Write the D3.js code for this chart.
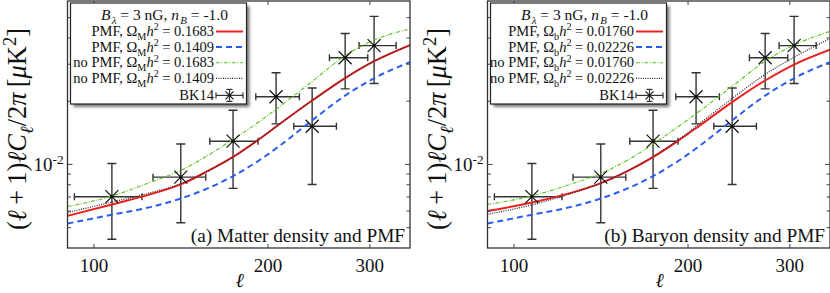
<!DOCTYPE html>
<html>
<head>
<meta charset="utf-8">
<script src="https://cdn.jsdelivr.net/npm/d3@7"></script>
<style>
  body { margin: 0; background: #fff; }
  text { font-family: "Liberation Serif", "Times New Roman", serif; fill: #111; }
</style>
</head>
<body>
<script>
const width = 830;
const height = 293;

// multipole grid the model curves are read on
const ellGrid = [90, 107.4, 125, 141.3, 156.9, 174, 192.2, 210, 238.4, 271.9, 305.1, 352];

// panel (a): matter density
const pmfM1 = [5.69e-3, 6.45e-3, 7.20e-3, 8.03e-3, 9.26e-3, 1.086e-2, 1.307e-2, 1.566e-2, 2.015e-2, 2.577e-2, 3.10e-2, 3.70e-2];
const pmfM2 = [5.23e-3, 5.76e-3, 6.26e-3, 6.88e-3, 7.67e-3, 8.80e-3, 1.037e-2, 1.233e-2, 1.621e-2, 2.126e-2, 2.572e-2, 3.07e-2];
const noPmfM1 = [6.30e-3, 7.07e-3, 8.21e-3, 9.37e-3, 1.098e-2, 1.315e-2, 1.583e-2, 1.897e-2, 2.48e-2, 3.30e-2, 3.91e-2, 4.42e-2];
const noPmfM2 = [5.90e-3, 6.62e-3, 7.32e-3, 8.10e-3, 9.26e-3, 1.086e-2, 1.307e-2, 1.566e-2, 2.015e-2, 2.577e-2, 3.10e-2, 3.70e-2];

// panel (b): baryon density
const pmfB1 = [6.00e-3, 6.58e-3, 7.30e-3, 8.15e-3, 9.27e-3, 1.084e-2, 1.295e-2, 1.539e-2, 1.98e-2, 2.51e-2, 2.99e-2, 3.52e-2];
const pmfB2 = [5.23e-3, 5.76e-3, 6.26e-3, 6.88e-3, 7.67e-3, 8.80e-3, 1.037e-2, 1.233e-2, 1.621e-2, 2.126e-2, 2.572e-2, 3.07e-2];
const noPmfB1 = [6.45e-3, 7.08e-3, 8.03e-3, 9.05e-3, 1.045e-2, 1.247e-2, 1.511e-2, 1.806e-2, 2.356e-2, 3.10e-2, 3.70e-2, 4.30e-2];
const noPmfB2 = [5.79e-3, 6.42e-3, 7.24e-3, 8.13e-3, 9.31e-3, 1.092e-2, 1.307e-2, 1.575e-2, 2.06e-2, 2.68e-2, 3.24e-2, 3.97e-2];

// BK14 band powers
const bkEll = [107.4, 141.3, 174.0, 206.5, 238.4, 271.9, 305.1];
const bkEllLo = [92.5, 126.5, 158.6, 190.5, 221.6, 255.4, 287.4];
const bkEllHi = [121.1, 156.1, 192.2, 226.6, 262.6, 297.5, 333.1];
const bkVal = [7.02e-3, 8.70e-3, 1.29e-2, 2.10e-2, 1.52e-2, 3.22e-2, 3.68e-2];
const bkLo = [4.40e-3, 5.28e-3, 7.69e-3, 1.56e-2, 8.03e-3, 2.29e-2, 2.43e-2];
const bkHi = [1.01e-2, 1.25e-2, 1.81e-2, 2.73e-2, 2.31e-2, 4.20e-2, 5.07e-2];

// legend text values and axis ticks
const omegaM = ["0.1683", "0.1409"];
const omegaB = ["0.01760", "0.02226"];
const xTicks = [100, 200, 300];
const yTicks = [5e-3, 6e-3, 7e-3, 8e-3, 9e-3, 1e-2, 2e-2, 3e-2, 4e-2, 5e-2];

const svg = d3.select("body").append("svg")
  .attr("width", width)
  .attr("height", height);

// soft shadow for the legend box
svg.append("defs").append("filter")
  .attr("id", "shadow")
  .attr("x", "-10%").attr("y", "-10%").attr("width", "130%").attr("height", "130%")
  .append("feGaussianBlur").attr("stdDeviation", 1.5);

const styles = [
  { color: "#ee2020", width: 2, dash: null },
  { color: "#2a5ef0", width: 2, dash: "6,4" },
  { color: "#5cc21c", width: 1.1, dash: "4,1.5,1,1.5" },
  { color: "#222", width: 1.2, dash: "1,1.3" },
];

const yScale = d3.scaleLog().domain([4e-3, 6e-2]).range([248, 1]);

// write text with italic / sub / superscript pieces as tspans
function rich(textSel, parts, size) {
  textSel.selectAll("tspan").remove();
  let shift = 0;
  parts.forEach(([str, kind = ""]) => {
    const t = textSel.append("tspan").text(str);
    let target = 0;
    if (kind.includes("sub")) target = size * 0.28;
    if (kind.includes("sup")) target = -size * 0.38;
    if (target !== shift) t.attr("dy", target - shift);
    shift = target;
    if (kind.includes("sub") || kind.includes("sup")) t.style("font-size", size * 0.7 + "px");
    if (kind.includes("i")) t.style("font-style", "italic");
    if (kind.includes("gap")) t.attr("dx", size * 0.08);
  });
}

const yLabelParts = [["("], ["ℓ", "i"], ["\u2009+\u20091)"], ["ℓ", "i"], ["C", "i"], ["ℓ", "isub"], ["/2"], ["π", "i"], ["\u2009["], ["μ", "i"], ["K"], ["2", "sup"], ["]"]];

function drawPanel(x0, curves, subLabel, values, tag) {
  const x1 = x0 + 342.5;
  const xScale = d3.scaleLog().domain([90, 352]).range([x0, x1]);
  const g = svg.append("g");

  // clip the curves to the frame
  const clipId = "clip" + Math.round(x0);
  svg.select("defs").append("clipPath").attr("id", clipId)
    .append("rect").attr("x", x0).attr("y", 1).attr("width", x1 - x0).attr("height", 247);

  const line = d3.line()
    .x((d, i) => xScale(ellGrid[i]))
    .y((d) => yScale(d))
    .curve(d3.curveMonotoneX);

  const plot = g.append("g").attr("clip-path", `url(#${clipId})`);

  // error bars
  const bars = plot.append("g").attr("stroke", "#333").attr("stroke-width", 1.4);
  bkEll.forEach((l, i) => {
    const cx = xScale(l), cy = yScale(bkVal[i]);
    const xl = xScale(bkEllLo[i]), xr = xScale(bkEllHi[i]);
    const yt = yScale(bkHi[i]), yb = yScale(bkLo[i]);
    bars.append("line").attr("x1", cx).attr("x2", cx).attr("y1", yt).attr("y2", yb);
    bars.append("line").attr("x1", cx - 4.5).attr("x2", cx + 4.5).attr("y1", yt).attr("y2", yt);
    bars.append("line").attr("x1", cx - 4.5).attr("x2", cx + 4.5).attr("y1", yb).attr("y2", yb);
    bars.append("line").attr("x1", xl).attr("x2", xr).attr("y1", cy).attr("y2", cy);
    bars.append("line").attr("x1", xl).attr("x2", xl).attr("y1", cy - 3.5).attr("y2", cy + 3.5);
    bars.append("line").attr("x1", xr).attr("x2", xr).attr("y1", cy - 3.5).attr("y2", cy + 3.5);
  });

  // model curves
  curves.forEach((c, k) => {
    plot.append("path")
      .datum(c)
      .attr("fill", "none")
      .attr("stroke", styles[k].color)
      .attr("stroke-width", styles[k].width)
      .attr("stroke-dasharray", styles[k].dash)
      .attr("d", line);
  });

  // BK14 markers on top
  bkEll.forEach((l, i) => {
    drawCross(plot, xScale(l), yScale(bkVal[i]), 6.5);
  });

  // frame and ticks
  g.append("rect")
    .attr("x", x0).attr("y", 1).attr("width", x1 - x0).attr("height", 247)
    .attr("fill", "none").attr("stroke", "#333").attr("stroke-width", 1.3);

  const ticks = g.append("g").attr("stroke", "#444").attr("stroke-width", 1);
  yTicks.forEach((v) => {
    const len = v === 1e-2 ? 5 : 3.5;
    ticks.append("line").attr("x1", x0).attr("x2", x0 + len).attr("y1", yScale(v)).attr("y2", yScale(v));
    ticks.append("line").attr("x1", x1 - len).attr("x2", x1).attr("y1", yScale(v)).attr("y2", yScale(v));
  });
  xTicks.forEach((v) => {
    ticks.append("line").attr("x1", xScale(v)).attr("x2", xScale(v)).attr("y1", 248).attr("y2", 244);
    ticks.append("line").attr("x1", xScale(v)).attr("x2", xScale(v)).attr("y1", 1).attr("y2", 5);
    g.append("text").attr("x", xScale(v)).attr("y", 272)
      .attr("text-anchor", "middle").style("font-size", "19px").text(v);
  });

  // y tick label 10^-2
  const yl = g.append("text").attr("x", x0 - 34).attr("y", yScale(1e-2) + 7)
    .style("font-size", "19px");
  rich(yl, [["10"], ["-2", "sup"]], 19);

  // axis titles
  g.append("text").attr("x", (x0 + x1) / 2 + 1).attr("y", 287)
    .attr("text-anchor", "middle").style("font-size", "20px").style("font-style", "italic").text("ℓ");

  // y label: size the font so the label spans about 202px like the original
  const ylab = g.append("text")
    .attr("transform", `translate(${x0 - 41.5},129) rotate(-90)`)
    .attr("text-anchor", "middle");
  let fsY = 24;
  ylab.style("font-size", fsY + "px");
  rich(ylab, yLabelParts, fsY);
  const len = ylab.node().getComputedTextLength();
  fsY = Math.min(27, fsY * 202 / len);
  ylab.style("font-size", fsY + "px");
  rich(ylab, yLabelParts, fsY);

  // panel caption
  g.append("text").attr("x", x1 - 5).attr("y", 242)
    .attr("text-anchor", "end").style("font-size", "19.3px").text(tag);

  drawLegend(g, x0, subLabel, values);
}

function drawCross(sel, cx, cy, s) {
  sel.append("path")
    .attr("d", `M${cx - s},${cy - s}L${cx + s},${cy + s}M${cx - s},${cy + s}L${cx + s},${cy - s}`)
    .attr("stroke", "#111").attr("stroke-width", 1.2).attr("fill", "none");
  sel.append("circle").attr("cx", cx).attr("cy", cy).attr("r", 1.6).attr("fill", "#111");
}

function drawLegend(g, x0, subLabel, values) {
  const bx = x0 + 3, by = 3, bw = 176, bh = 101;
  g.append("rect").attr("x", bx + 3).attr("y", by + 3).attr("width", bw).attr("height", bh)
    .attr("fill", "#777").attr("filter", "url(#shadow)");
  g.append("rect").attr("x", bx).attr("y", by).attr("width", bw).attr("height", bh)
    .attr("fill", "#fff").attr("stroke", "#222").attr("stroke-width", 1.2);

  const fs = 14.5;
  const title = g.append("text").attr("x", bx + bw / 2 + 6).attr("y", by + 17)
    .attr("text-anchor", "middle").style("font-size", "15.5px");
  rich(title, [["B", "i"], ["λ", "isub gap"], [" = 3 nG, "], ["n", "i"], ["B", "isub gap"], [" = -1.0"]], 15.5);

  const names = ["PMF", "PMF", "no PMF", "no PMF"];
  const textX = bx + 143.5;
  names.forEach((name, k) => {
    const y = by + 33 + k * 15.6;
    const t = g.append("text").attr("x", textX).attr("y", y).attr("text-anchor", "end").style("font-size", fs + "px");
    rich(t, [[name + ", Ω"], [subLabel, "sub"], ["h", "i"], ["2", "sup"], [" = " + values[k % 2]]], fs);
    g.append("line")
      .attr("x1", textX + 2).attr("x2", textX + 29).attr("y1", y - 4.5).attr("y2", y - 4.5)
      .attr("stroke", styles[k].color).attr("stroke-width", styles[k].width)
      .attr("stroke-dasharray", styles[k].dash);
  });

  const yb = by + 33 + 4 * 15.6 + 2;
  g.append("text").attr("x", textX).attr("y", yb).attr("text-anchor", "end").style("font-size", fs + "px").text("BK14");
  const cx = textX + 15.5, cy = yb - 5;
  const bk = g.append("g").attr("stroke", "#333").attr("stroke-width", 1.2);
  bk.append("line").attr("x1", textX + 2).attr("x2", textX + 29).attr("y1", cy).attr("y2", cy);
  bk.append("line").attr("x1", textX + 2).attr("x2", textX + 2).attr("y1", cy - 3).attr("y2", cy + 3);
  bk.append("line").attr("x1", textX + 29).attr("x2", textX + 29).attr("y1", cy - 3).attr("y2", cy + 3);
  bk.append("line").attr("x1", cx).attr("x2", cx).attr("y1", cy - 6).attr("y2", cy + 6);
  bk.append("line").attr("x1", cx - 3).attr("x2", cx + 3).attr("y1", cy - 6).attr("y2", cy - 6);
  bk.append("line").attr("x1", cx - 3).attr("x2", cx + 3).attr("y1", cy + 6).attr("y2", cy + 6);
  const s = 4;
  g.append("path")
    .attr("d", `M${cx - s},${cy - s}L${cx + s},${cy + s}M${cx - s},${cy + s}L${cx + s},${cy - s}`)
    .attr("stroke", "#111").attr("stroke-width", 1.1);
}

drawPanel(67.5, [pmfM1, pmfM2, noPmfM1, noPmfM2], "M", omegaM, "(a) Matter density and PMF");
drawPanel(487.5, [pmfB1, pmfB2, noPmfB1, noPmfB2], "b", omegaB, "(b) Baryon density and PMF");
</script>
</body>
</html>
